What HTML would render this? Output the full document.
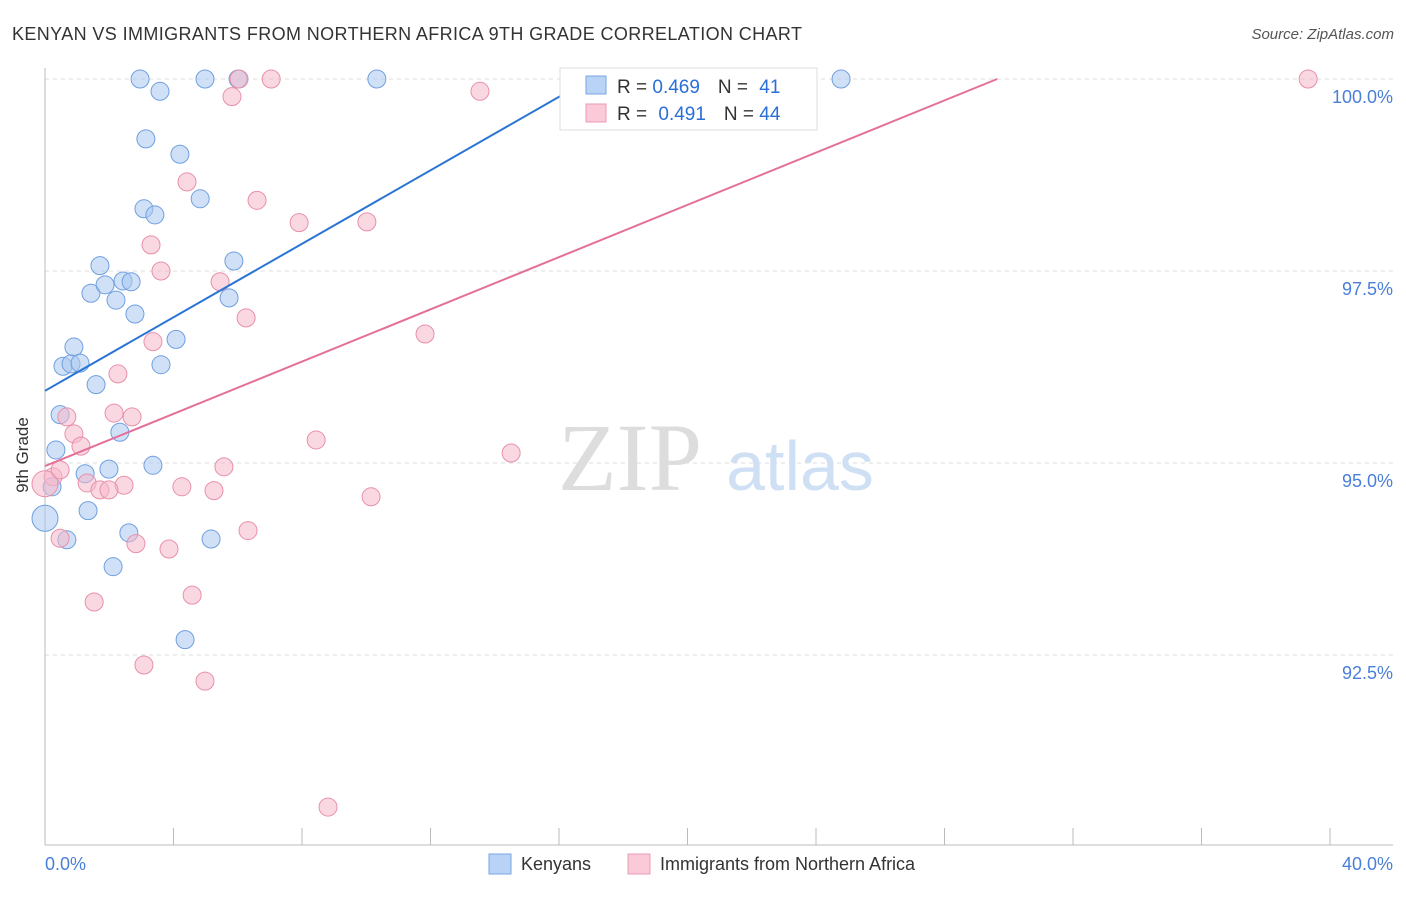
<!DOCTYPE html>
<html><head><meta charset="utf-8"><style>
body{margin:0;background:#fff;font-family:"Liberation Sans",sans-serif}
</style></head><body>
<svg width="1406" height="892" viewBox="0 0 1406 892">
<text x="12" y="40" font-size="18" fill="#333" textLength="790">KENYAN VS IMMIGRANTS FROM NORTHERN AFRICA 9TH GRADE CORRELATION CHART</text>
<text x="1394" y="39" font-size="15" fill="#555" font-style="italic" text-anchor="end">Source: ZipAtlas.com</text>
<g id="grid"></g>
<text x="630" y="490" font-size="96" fill="#ddd" font-family="Liberation Serif" text-anchor="middle">ZIP</text>
<text x="800" y="490" font-size="70" fill="#cfe0f5" text-anchor="middle">atlas</text>
<g id="pts"></g>
<g id="lines"></g>
<text x="28" y="455" font-size="17" fill="#333" text-anchor="middle" transform="rotate(-90 28 455)">9th Grade</text>
<text x="45" y="870" font-size="18" fill="#4a7fd8">0.0%</text>
<text x="1393" y="870" font-size="18" fill="#4a7fd8" text-anchor="end">40.0%</text>
<g>
<rect x="560" y="68" width="257" height="62" fill="#fff" stroke="#ddd"/>
<rect x="586" y="76" width="20" height="18" fill="#b8d3f5" stroke="#7aa6e3"/>
<rect x="586" y="104" width="20" height="18" fill="#fbcad8" stroke="#ec9ab3"/>
<text x="617" y="93" font-size="19" fill="#333">R = <tspan fill="#2a6fd6">0.469</tspan><tspan dx="18">N = </tspan><tspan fill="#2a6fd6" dx="6">41</tspan></text>
<text x="617" y="120" font-size="19" fill="#333">R = <tspan fill="#2a6fd6" dx="6">0.491</tspan><tspan dx="18">N = </tspan><tspan fill="#2a6fd6">44</tspan></text>
</g>
<g>
<rect x="489" y="854" width="22" height="20" fill="#b8d3f5" stroke="#7aa6e3"/>
<text x="521" y="870" font-size="18" fill="#333">Kenyans</text>
<rect x="628" y="854" width="22" height="20" fill="#fbcad8" stroke="#ec9ab3"/>
<text x="660" y="870" font-size="18" fill="#333">Immigrants from Northern Africa</text>
</g>
</svg>
<script>
const blueX=[2.96,3.58,4.98,6.01,10.33,24.78,3.14,4.20,3.08,3.42,4.83,1.71,5.88,1.43,1.87,2.43,2.68,2.21,2.80,5.73,4.08,0.90,0.56,0.81,1.09,3.61,1.59,0.47,2.33,0.34,1.25,1.99,3.36,0.22,0,1.34,0.68,2.61,5.17,2.12,4.36];
const blueY=[100,99.84,100,100,100,100,99.22,99.02,98.31,98.23,98.44,97.57,97.63,97.21,97.32,97.37,97.36,97.12,96.94,97.15,96.61,96.51,96.26,96.29,96.30,96.28,96.02,95.63,95.40,95.17,94.86,94.92,94.97,94.69,94.28,94.38,94.00,94.09,94.01,93.65,92.70];
const pinkX=[6.04,7.04,13.54,5.82,39.32,4.42,6.60,7.91,10.02,3.30,3.61,5.45,6.26,11.83,3.36,2.27,0.68,2.15,2.71,0.90,1.12,8.44,14.51,5.57,0.25,1.31,2.46,1.71,1.99,4.26,5.26,10.15,0.47,2.83,3.86,6.32,1.53,4.58,3.08,4.98,8.81,0,0.47];
const pinkY=[100,100,99.84,99.77,100,98.66,98.42,98.13,98.14,97.84,97.5,97.36,96.89,96.68,96.58,96.16,95.60,95.65,95.60,95.38,95.22,95.30,95.13,94.95,94.82,94.74,94.71,94.65,94.65,94.69,94.64,94.56,94.02,93.95,93.88,94.12,93.19,93.28,92.37,92.16,90.52,94.73,94.91];
const yTicks=[100,97.5,95,92.5];
const yTickLabels=["100.0%","97.5%","95.0%","92.5%"];
const xTicks=[0,4,8,12,16,20,24,28,32,36,40];
const blueTrend=[0,95.94,16.97,100];
const pinkTrend=[0,94.96,29.64,100];
const ns="http://www.w3.org/2000/svg";
const X=v=>45+v*1285/40, Y=v=>79+(100-v)*76.8;
function mk(t,a,p){const e=document.createElementNS(ns,t);for(const k in a)e.setAttribute(k,a[k]);p.appendChild(e);return e;}
const g=document.getElementById('grid');
yTicks.forEach((t,i)=>{
 const l=mk('line',{x1:45,x2:1393,y1:Y(t),y2:Y(t),stroke:'#ddd','stroke-dasharray':'4,4'},g);
 
 
 const tx=mk('text',{x:1393,y:Y(t)+24,'font-size':18,fill:'#4a7fd8','text-anchor':'end'},g);
 tx.textContent=yTickLabels[i];
 
 
});
xTicks.forEach(t=>{
 const l=mk('line',{x1:X(t),x2:X(t),y1:828,y2:845,stroke:'#bbb'},g);
 
 
});
const ay=mk('line',{x1:45,x2:45,y1:68,y2:845,stroke:'#bbb'},g);


const ax=mk('line',{x1:45,x2:1393,y1:845,y2:845,stroke:'#bbb'},g);


const p=document.getElementById('pts');
function pts(xs,ys,fill,stroke,name){xs.forEach((x,i)=>{
 const r=(x===0)?13:9;
 const c=mk('circle',{cx:X(x),cy:Y(ys[i]),r:r,fill:fill,'fill-opacity':0.55,stroke:stroke,'stroke-width':1},p);
 
 
});}
pts(blueX,blueY,'#a9c8f0','#6f9fe0','kenyan-point');
pts(pinkX,pinkY,'#f6b8cb','#e890aa','immigrant-point');
const L=document.getElementById('lines');
const bl=mk('line',{x1:X(blueTrend[0]),y1:Y(blueTrend[1]),x2:X(blueTrend[2]),y2:Y(blueTrend[3]),stroke:'#2a74d4','stroke-width':2},L);


const pl=mk('line',{x1:X(pinkTrend[0]),y1:Y(pinkTrend[1]),x2:X(pinkTrend[2]),y2:Y(pinkTrend[3]),stroke:'#e4709a','stroke-width':2},L);


</script>
</body></html>
